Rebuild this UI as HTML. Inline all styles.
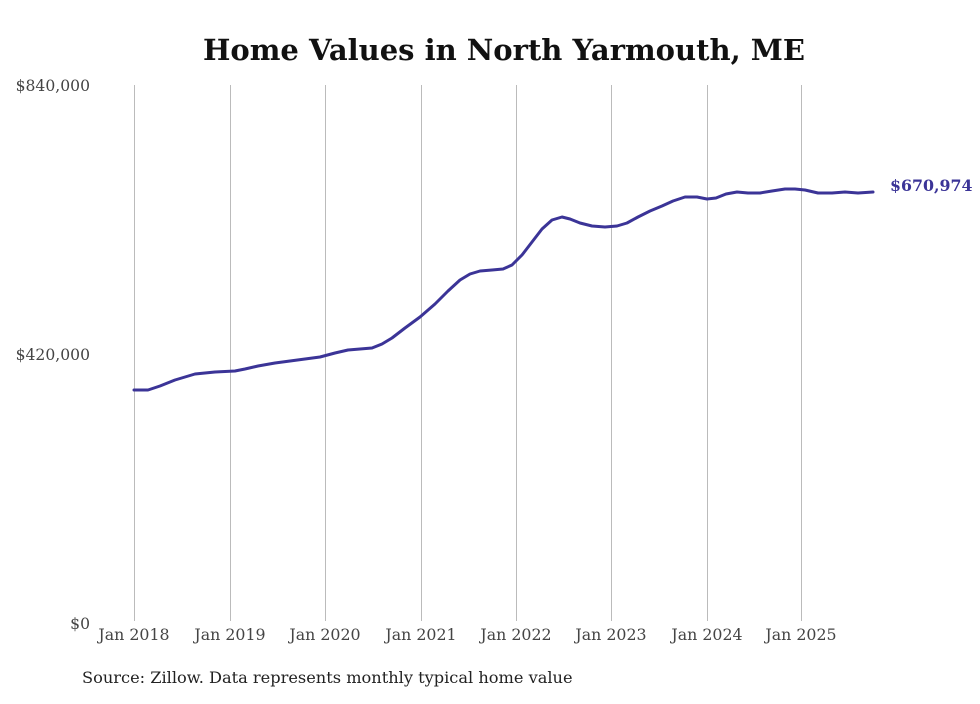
<!DOCTYPE html>
<html><head><meta charset="utf-8"><style>
html,body{margin:0;padding:0;background:#fff;}
body{width:980px;height:699px;overflow:hidden;}
</style></head><body>
<svg width="980" height="699" xmlns="http://www.w3.org/2000/svg" font-family="'DejaVu Serif','Liberation Serif',serif">
<rect width="980" height="699" fill="#fff"/>
<text x="504" y="60" text-anchor="middle" font-size="29" font-weight="bold" fill="#111">Home Values in North Yarmouth, ME</text>
<g stroke="#bbb" stroke-width="1">
<line x1="134.5" y1="85" x2="134.5" y2="621"/>
<line x1="230.5" y1="85" x2="230.5" y2="621"/>
<line x1="325.5" y1="85" x2="325.5" y2="621"/>
<line x1="421.5" y1="85" x2="421.5" y2="621"/>
<line x1="516.5" y1="85" x2="516.5" y2="621"/>
<line x1="611.5" y1="85" x2="611.5" y2="621"/>
<line x1="707.5" y1="85" x2="707.5" y2="621"/>
<line x1="801.5" y1="85" x2="801.5" y2="621"/>
</g>
<g font-size="15.6" fill="#444">
<text x="90" y="91" text-anchor="end">$840,000</text>
<text x="90" y="360" text-anchor="end">$420,000</text>
<text x="90" y="629" text-anchor="end">$0</text>
</g>
<g font-size="15.8" fill="#444" text-anchor="middle">
<text x="134" y="640">Jan 2018</text>
<text x="230" y="640">Jan 2019</text>
<text x="325" y="640">Jan 2020</text>
<text x="421" y="640">Jan 2021</text>
<text x="516" y="640">Jan 2022</text>
<text x="611" y="640">Jan 2023</text>
<text x="707" y="640">Jan 2024</text>
<text x="801" y="640">Jan 2025</text>
</g>
<polyline fill="none" stroke="#3b3497" stroke-width="3" stroke-linejoin="round" stroke-linecap="round"
points="134,390 148,390 160,386 175,380 195,374 215,372 235,371 245,369 258,366 275,363 290,361 305,359 320,357 335,353 348,350 360,349 372,348 382,344 392,338 405,328 420,317 435,304 448,291 460,280 470,274 480,271 492,270 503,269 512,265 522,255 532,242 542,229 552,220 562,217 570,219 580,223 592,226 605,227 617,226 627,223 638,217 650,211 662,206 673,201 685,197 697,197 707,199 716,198 726,194 737,192 748,193 760,193 772,191 785,189 795,189 805,190 818,193 832,193 845,192 858,193 873,192"/>
<text x="890" y="191" font-size="15.8" font-weight="bold" fill="#3b3497">$670,974</text>
<text x="82" y="683" font-size="16.2" fill="#222">Source: Zillow. Data represents monthly typical home value</text>
</svg>
</body></html>
